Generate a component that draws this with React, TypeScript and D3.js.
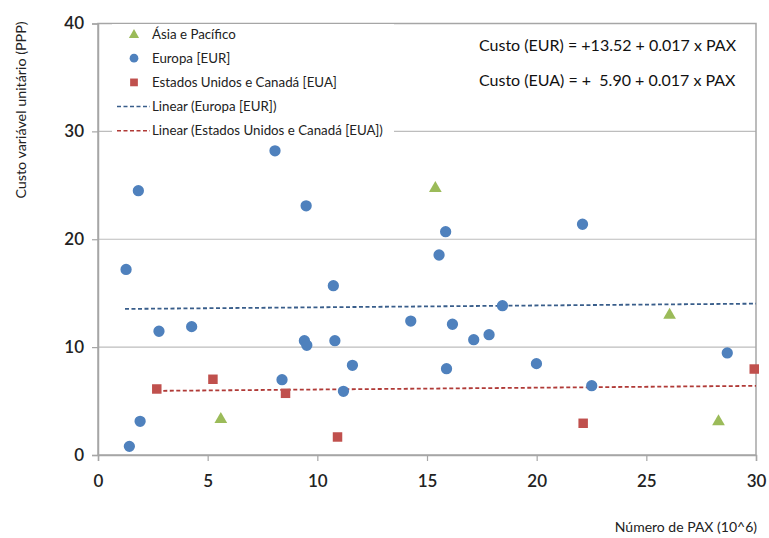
import { useEffect, useRef } from "react";
import * as d3 from "d3";

// values: [PAX (10^6), custo]
const asiaPts: [number, number][] = [
  [5.6, 3.4],
  [15.38, 24.82],
  [26.06, 13.07],
  [28.29, 3.18],
];

const europaPts: [number, number][] = [
  [1.43, 0.8], [1.92, 3.12], [1.28, 17.2], [1.84, 24.5], [2.78, 11.47],
  [4.27, 11.9], [8.07, 28.2], [8.39, 6.98], [9.49, 23.1], [9.41, 10.6],
  [9.52, 10.17], [10.73, 15.7], [10.8, 10.6], [11.19, 5.9], [11.6, 8.31],
  [14.26, 12.42], [15.55, 18.54], [15.85, 20.7], [15.89, 8.0], [16.16, 12.12],
  [17.13, 10.69], [17.83, 11.15], [18.44, 13.84], [19.99, 8.47], [22.09, 21.39],
  [22.51, 6.43], [28.69, 9.46],
];

const euaPts: [number, number][] = [
  [2.68, 6.12], [5.24, 7.02], [8.55, 5.72], [10.92, 1.67], [22.12, 2.94], [29.92, 7.97],
];

// trend lines: intercept, slope, x range
const trendEur = { a: 13.52, b: 0.017, from: 1.23, to: 30 };
const trendEua = { a: 5.9, b: 0.017, from: 2.68, to: 30 };

const xTicks = [0, 5, 10, 15, 20, 25, 30];
const yTicks = [0, 10, 20, 30, 40];

const legendItems = [
  { label: "Ásia e Pacífico", kind: "tri" },
  { label: "Europa [EUR]", kind: "circle" },
  { label: "Estados Unidos e Canadá [EUA]", kind: "square" },
  { label: "Linear (Europa [EUR])", kind: "lineEur" },
  { label: "Linear (Estados Unidos e Canadá [EUA])", kind: "lineEua" },
];

const equations = [
  "Custo (EUR) = +13.52 + 0.017 x PAX",
  "Custo (EUA) = +\u00a0\u00a05.90 + 0.017 x PAX",
];

const W = 769;
const H = 538;
const m = { left: 98, right: 13, top: 23.5, bottom: 83 };
const FONT = "Lato, 'Open Sans', sans-serif";
const BLUE = "#4f81bd";
const RED = "#c0504d";
const GREEN = "#9bbb59";

export default function App() {
  const ref = useRef<SVGSVGElement>(null);

  useEffect(() => {
    const svg = d3.select(ref.current);
    svg.selectAll("*").remove();

    const x = d3.scaleLinear().domain([0, 30]).range([m.left, W - m.right]);
    const y = d3.scaleLinear().domain([0, 40]).range([H - m.bottom, m.top]);

    // grid
    svg
      .append("g")
      .selectAll("line")
      .data(yTicks.filter((t) => t > 0))
      .join("line")
      .attr("x1", x(0))
      .attr("x2", x(30))
      .attr("y1", (d) => y(d))
      .attr("y2", (d) => y(d))
      .attr("stroke", "#bdbdbd")
      .attr("stroke-width", 1.2);

    // frame
    svg
      .append("rect")
      .attr("x", x(0))
      .attr("y", y(40))
      .attr("width", x(30) - x(0))
      .attr("height", y(0) - y(40))
      .attr("fill", "none")
      .attr("stroke", "#a6a6a6")
      .attr("stroke-width", 1.5);

    // axes
    const gx = svg
      .append("g")
      .attr("transform", `translate(0,${y(0)})`)
      .call(d3.axisBottom(x).tickValues(xTicks).tickSize(6).tickPadding(14));
    const gy = svg
      .append("g")
      .attr("transform", `translate(${x(0)},0)`)
      .call(d3.axisLeft(y).tickValues(yTicks).tickSize(6).tickPadding(8));
    [gx, gy].forEach((g) => {
      g.select(".domain").attr("stroke", "#a6a6a6").attr("stroke-width", 1.5);
      g.selectAll(".tick line").attr("stroke", "#a6a6a6").attr("stroke-width", 1.2);
      g.selectAll(".tick text")
        .attr("font-family", FONT)
        .attr("font-size", 17)
        .attr("font-weight", 600)
        .attr("fill", "#222");
    });

    // trend lines
    const line = d3
      .line<number>()
      .x((d) => x(d))
      .y((d) => y(d));
    [
      { t: trendEur, c: "#385d8a" },
      { t: trendEua, c: "#b03a37" },
    ].forEach(({ t, c }) => {
      svg
        .append("path")
        .attr("d", line.y((d) => y(t.a + t.b * d))([t.from, t.to]))
        .attr("fill", "none")
        .attr("stroke", c)
        .attr("stroke-width", 1.8)
        .attr("stroke-dasharray", "4,2.5");
    });

    // markers
    const sym = (type: d3.SymbolType, size: number) => d3.symbol().type(type).size(size)();
    svg
      .append("g")
      .selectAll("path")
      .data(europaPts)
      .join("path")
      .attr("d", sym(d3.symbolCircle, 100))
      .attr("transform", (d) => `translate(${x(d[0])},${y(d[1])})`)
      .attr("fill", BLUE);
    svg
      .append("g")
      .selectAll("path")
      .data(euaPts)
      .join("path")
      .attr("d", sym(d3.symbolSquare, 90))
      .attr("transform", (d) => `translate(${x(d[0])},${y(d[1])})`)
      .attr("fill", RED);
    svg
      .append("g")
      .selectAll("path")
      .data(asiaPts)
      .join("path")
      .attr("d", sym(d3.symbolTriangle, 70))
      .attr("transform", (d) => `translate(${x(d[0])},${y(d[1]) + 1})`)
      .attr("fill", GREEN);

    // legend
    const lg = svg.append("g");
    lg.append("rect")
      .attr("x", 112)
      .attr("y", 24)
      .attr("width", 282)
      .attr("height", 118)
      .attr("fill", "white");
    legendItems.forEach((it, i) => {
      const cy = 34 + i * 24.2;
      const row = lg.append("g").attr("transform", `translate(0,${cy})`);
      if (it.kind === "tri") row.append("path").attr("d", sym(d3.symbolTriangle, 45)).attr("transform", "translate(134,1)").attr("fill", GREEN);
      if (it.kind === "circle") row.append("path").attr("d", sym(d3.symbolCircle, 60)).attr("transform", "translate(134,0)").attr("fill", BLUE);
      if (it.kind === "square") row.append("path").attr("d", sym(d3.symbolSquare, 60)).attr("transform", "translate(134,0)").attr("fill", RED);
      if (it.kind === "lineEur" || it.kind === "lineEua")
        row.append("line")
          .attr("x1", 117).attr("x2", 150).attr("y1", 0).attr("y2", 0)
          .attr("stroke", it.kind === "lineEur" ? "#385d8a" : "#b03a37")
          .attr("stroke-width", 1.5)
          .attr("stroke-dasharray", "4,2.5");
      row.append("text")
        .attr("x", 152)
        .attr("y", 0)
        .attr("dy", "0.35em")
        .attr("font-family", FONT)
        .attr("font-size", 13.3)
        .attr("fill", "#222")
        .text(it.label);
    });

    // equations
    equations.forEach((e, i) => {
      svg.append("text")
        .attr("x", 479)
        .attr("y", 45 + i * 35)
        .attr("dy", "0.35em")
        .attr("font-family", FONT)
        .attr("font-size", 16)
        .attr("fill", "#111")
        .text(e);
    });

    // axis titles
    svg.append("text")
      .attr("transform", `translate(21,110) rotate(-90)`)
      .attr("text-anchor", "middle")
      .attr("dy", "0.35em")
      .attr("font-family", FONT)
      .attr("font-size", 14.3)
      .attr("fill", "#222")
      .text("Custo variável unitário (PPP)");
    svg.append("text")
      .attr("x", 757)
      .attr("y", 527)
      .attr("text-anchor", "end")
      .attr("dy", "0.35em")
      .attr("font-family", FONT)
      .attr("font-size", 14)
      .attr("fill", "#222")
      .text("Número de PAX (10^6)");
  }, []);

  return (
    <svg
      ref={ref}
      width={W}
      height={H}
      style={{ position: "absolute", left: 0, top: 0, background: "white" }}
    />
  );
}
